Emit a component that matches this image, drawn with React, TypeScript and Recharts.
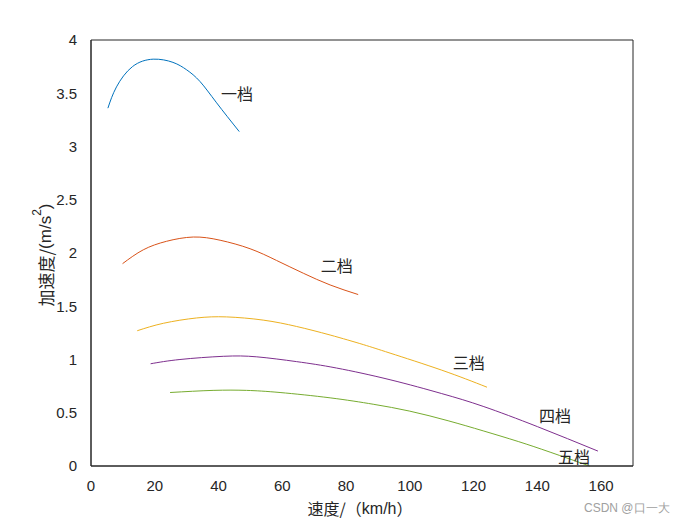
import React from "react";
import {
  LineChart,
  Line,
  XAxis,
  YAxis,
  ReferenceDot,
} from "recharts";

// gear curves: speed (km/h) vs acceleration (m/s^2)
const gear1Speed = [5.3, 8, 13, 19.5, 25.7, 30, 34.2, 39.4, 46.5];
const gear1Acc = [3.36, 3.56, 3.75, 3.82, 3.79, 3.72, 3.61, 3.41, 3.14];

const gear2Speed = [9.9, 16.4, 23.7, 32.1, 40.5, 49.9, 58.2, 66.6, 75, 83.8];
const gear2Acc = [1.9, 2.03, 2.11, 2.15, 2.12, 2.04, 1.93, 1.81, 1.7, 1.61];

const gear3Speed = [14.5, 22.7, 33.1, 42.5, 54, 64.5, 75, 85.4, 93.8, 110, 124.2];
const gear3Acc = [1.27, 1.34, 1.39, 1.4, 1.37, 1.31, 1.23, 1.14, 1.06, 0.9, 0.74];

const gear4Speed = [18.7, 27.9, 41.5, 52, 64.5, 77, 93.8, 110, 123, 140, 159];
const gear4Acc = [0.96, 1.0, 1.03, 1.025, 0.98, 0.92, 0.81, 0.68, 0.56, 0.37, 0.14];

const gear5Speed = [24.8, 38.3, 48.8, 59.3, 75, 88.5, 100, 112, 123, 134, 144, 156.4];
const gear5Acc = [0.69, 0.71, 0.71, 0.69, 0.64, 0.58, 0.515, 0.425, 0.33, 0.23, 0.13, 0.0];

const gearNames = ["一档", "二档", "三档", "四档", "五档"];
const labelX = [40.8, 72.1, 113.5, 140.5, 146.5];
const labelY = [3.5, 1.89, 0.98, 0.48, 0.09];

const xTicks = [0, 20, 40, 60, 80, 100, 120, 140, 160];
const yTicks = [0, 0.5, 1, 1.5, 2, 2.5, 3, 3.5, 4];

const colors = ["#0072BD", "#D95319", "#EDB120", "#7E2F8E", "#77AC30"];
const axisColor = "#262626";
const latinFont = "'Liberation Sans', Arial, sans-serif";
const cjkFont = "'Noto Sans CJK SC', sans-serif";

const toPoints = (xs: number[], ys: number[]) =>
  xs.map((x, i) => ({ x, y: ys[i] }));

const series = [
  toPoints(gear1Speed, gear1Acc),
  toPoints(gear2Speed, gear2Acc),
  toPoints(gear3Speed, gear3Acc),
  toPoints(gear4Speed, gear4Acc),
  toPoints(gear5Speed, gear5Acc),
];

const tickStyle = { fill: axisColor, fontSize: 15, fontFamily: latinFont };

const App = () => {
  return (
    <div style={{ position: "absolute", left: 0, top: 0 }}>
      <LineChart
        width={700}
        height={525}
        margin={{ top: 40, right: 67, left: 41, bottom: 29 }}
      >
        {/* outer axes: labels only */}
        <XAxis
          dataKey="x"
          type="number"
          domain={[0, 170]}
          ticks={xTicks}
          allowDataOverflow
          stroke={axisColor}
          tickLine={false}
          tickMargin={8}
          tick={tickStyle}
          height={30}
          label={{
            content: () => (
              <text
                x={360}
                y={508}
                textAnchor="middle"
                dominantBaseline="central"
                fill={axisColor}
                fontSize={16}
              >
                <tspan fontFamily={cjkFont}>速度/（</tspan>
                <tspan fontFamily={latinFont}>km/h</tspan>
                <tspan fontFamily={cjkFont}>）</tspan>
              </text>
            ),
          }}
        />
        <YAxis
          type="number"
          domain={[0, 4]}
          ticks={yTicks}
          stroke={axisColor}
          tickLine={false}
          tickMargin={8}
          tick={tickStyle}
          width={50}
          label={{
            content: () => (
              <text
                x={45}
                y={255}
                textAnchor="middle"
                dominantBaseline="central"
                fill={axisColor}
                fontSize={17}
                transform="rotate(-90 45 255)"
              >
                <tspan fontFamily={cjkFont}>加速度/</tspan>
                <tspan fontFamily={latinFont}>(m/s</tspan>
                <tspan fontFamily={latinFont} fontSize={12} dy={-8}>
                  2
                </tspan>
                <tspan fontFamily={latinFont} dy={8}>
                  )
                </tspan>
              </text>
            ),
          }}
        />
        {/* box with inward ticks */}
        <XAxis
          xAxisId="bIn"
          orientation="bottom"
          mirror
          type="number"
          domain={[0, 170]}
          ticks={xTicks}
          stroke={axisColor}
          tickSize={5}
          tick={false}
        />
        <XAxis
          xAxisId="top"
          orientation="top"
          mirror
          type="number"
          domain={[0, 170]}
          ticks={xTicks}
          stroke={axisColor}
          tickSize={5}
          tick={false}
        />
        <YAxis
          yAxisId="lIn"
          orientation="left"
          mirror
          type="number"
          domain={[0, 4]}
          ticks={yTicks}
          stroke={axisColor}
          tickSize={5}
          tick={false}
        />
        <YAxis
          yAxisId="right"
          orientation="right"
          mirror
          type="number"
          domain={[0, 4]}
          ticks={yTicks}
          stroke={axisColor}
          tickSize={5}
          tick={false}
        />
        {/* invisible series so the box axes are in use */}
        <Line
          xAxisId="top"
          yAxisId="right"
          data={series[0]}
          dataKey="y"
          stroke="none"
          dot={false}
          activeDot={false}
          isAnimationActive={false}
        />
        <Line
          xAxisId="bIn"
          yAxisId="lIn"
          data={series[0]}
          dataKey="y"
          stroke="none"
          dot={false}
          activeDot={false}
          isAnimationActive={false}
        />
        {series.map((pts, i) => (
          <Line
            key={gearNames[i]}
            data={pts}
            dataKey="y"
            type="natural"
            stroke={colors[i]}
            strokeWidth={1}
            dot={false}
            activeDot={false}
            isAnimationActive={false}
          />
        ))}
        {gearNames.map((name, i) => (
          <ReferenceDot
            key={"lbl" + name}
            x={labelX[i]}
            y={labelY[i]}
            r={0}
            shape={(p: any) => (
              <text
                x={p.cx}
                y={p.cy}
                dominantBaseline="central"
                fill={axisColor}
                fontSize={16}
                fontFamily={cjkFont}
              >
                {name}
              </text>
            )}
          />
        ))}
      </LineChart>
      <div
        style={{
          position: "absolute",
          left: 584,
          top: 500,
          fontFamily: latinFont,
          fontSize: 12,
          color: "#a0a0a0",
          whiteSpace: "nowrap",
        }}
      >
        CSDN @口一大
      </div>
    </div>
  );
};

export default App;
